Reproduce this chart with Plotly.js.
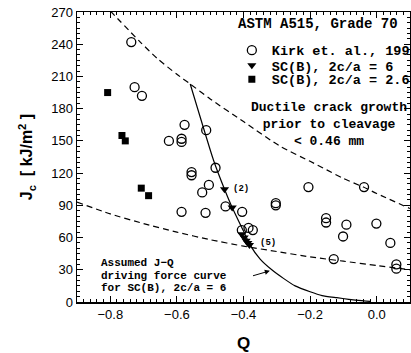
<!DOCTYPE html>
<html>
<head>
<meta charset="utf-8">
<script src="https://cdn.plot.ly/plotly-3.0.1.min.js"></script>
<style>html,body{margin:0;padding:0;background:#fff;} #chart{width:411px;height:353px;}</style>
</head>
<body>
<div id="chart"></div>
<script>
// Kirk et al., 1991 (open circles)
const kirkQ = [-0.737,-0.727,-0.705,-0.577,-0.624,-0.586,-0.586,-0.512,-0.556,-0.556,-0.484,-0.504,-0.524,-0.586,-0.514,-0.454,-0.404,-0.405,-0.385,-0.372,-0.205,-0.038,-0.303,-0.303,-0.152,-0.152,-0.091,-0.001,-0.101,0.041,-0.129,0.059,0.059];
const kirkJ = [242,200,192,165,150,152,149,160,121,118,125,109,102,84,83,89,84,67,69,67,107,107,92,90,78,74,72,73,61,55,40,35,31];
// SC(B), 2c/a = 6 (filled down triangles)
const tri6Q = [-0.457,-0.434,-0.405,-0.398,-0.392,-0.387,-0.382];
const tri6J = [105,88,63,60,57,55,53];
// SC(B), 2c/a = 2.6 (filled squares)
const sq26Q = [-0.808,-0.765,-0.755,-0.707,-0.685];
const sq26J = [195,155,150,106,99];
// upper dashed bound
const upQ = [-0.80,-0.71,-0.66,-0.60,-0.56,-0.50,-0.40,-0.29,-0.20,-0.15,-0.10,-0.04,0.00,0.10];
const upJ = [271,242,227,212,203,189,168,145,131,123,115,107,101,87];
// lower dashed bound
const loQ = [-0.90,-0.80,-0.70,-0.60,-0.50,-0.40,-0.30,-0.20,-0.10,0.00,0.10];
const loJ = [93,82,73,65,58,52,47,42,38,34,30];
// assumed J-Q driving force curve
const dfQ = [-0.56,-0.49,-0.457,-0.434,-0.40,-0.38,-0.35,-0.315,-0.28,-0.245,-0.20,-0.164,-0.12,-0.084,-0.02];
const dfJ = [203,132,105,88,66,53,40,30,22,15,9.5,6,4,2.5,0.5];
// arrow pointing at the driving force curve [tail, head]
const arrowQ = [-0.376,-0.321];
const arrowJ = [24,29];
// tick labels
const xTicks = [-0.8,-0.6,-0.4,-0.2,0.0];
const xTickText = ['\u22120.8','\u22120.6','\u22120.4','\u22120.2','0.0'];
const yTicks = [0,30,60,90,120,150,180,210,240,270];

const mono = 'Liberation Mono, Courier New, monospace';
const sans = 'Liberation Sans, Arial, Helvetica, sans-serif';

const traces = [
  {x: upQ, y: upJ, mode: 'lines', line: {color: '#000', width: 1.2, dash: '6px,4px', shape: 'spline', smoothing: 0.6}, showlegend: false, hoverinfo: 'skip'},
  {x: loQ, y: loJ, mode: 'lines', line: {color: '#000', width: 1.2, dash: '6px,4px', shape: 'spline', smoothing: 0.6}, showlegend: false, hoverinfo: 'skip'},
  {x: dfQ, y: dfJ, mode: 'lines', line: {color: '#000', width: 1.2, shape: 'spline', smoothing: 0.5}, showlegend: false, hoverinfo: 'skip'},
  {x: kirkQ, y: kirkJ, mode: 'markers', name: 'Kirk et. al., 1991', legend: 'legend', marker: {symbol: 'circle-open', size: 9, color: '#000', line: {width: 1.3}}},
  {x: tri6Q, y: tri6J, mode: 'markers', name: 'SC(B), 2c/a = 6', legend: 'legend2', marker: {symbol: 'triangle-down', size: 8, color: '#000'}},
  {x: sq26Q, y: sq26J, mode: 'markers', name: 'SC(B), 2c/a = 2.6', legend: 'legend3', marker: {symbol: 'square', size: 7, color: '#000'}}
];

const txtFont = {family: mono, size: 14, color: '#000', weight: 'bold'};
const smallFont = {family: mono, size: 11, color: '#000', weight: 'bold'};

const annotations = [
  {xref: 'paper', yref: 'paper', x: 0.477, y: 0.958, xanchor: 'left', yanchor: 'middle', text: 'ASTM A515, Grade 70', showarrow: false, font: txtFont},
  {xref: 'paper', yref: 'paper', x: 0.757, y: 0.703, xanchor: 'center', yanchor: 'top', align: 'center',
   text: 'Ductile crack growth<br>prior to cleavage<br>&lt; 0.46 mm', showarrow: false, font: {family: mono, size: 13, color: '#000', weight: 'bold'}},
  {xref: 'paper', yref: 'paper', x: 0.066, y: 0.134, xanchor: 'left', yanchor: 'middle', text: 'Assumed J\u2212Q', showarrow: false, font: smallFont},
  {xref: 'paper', yref: 'paper', x: 0.066, y: 0.090, xanchor: 'left', yanchor: 'middle', text: 'driving force curve', showarrow: false, font: smallFont},
  {xref: 'paper', yref: 'paper', x: 0.066, y: 0.048, xanchor: 'left', yanchor: 'middle', text: 'for SC(B), 2c/a = 6', showarrow: false, font: smallFont},
  {xref: 'x', yref: 'y', x: tri6Q[0], y: tri6J[0], xanchor: 'left', yanchor: 'middle', xshift: 6, text: '(2)', showarrow: false, font: {family: mono, size: 9, color: '#000', weight: 'bold'}},
  {xref: 'x', yref: 'y', x: tri6Q[tri6Q.length-1], y: tri6J[tri6J.length-1], xanchor: 'left', yanchor: 'middle', xshift: 9, yshift: 2, text: '(5)', showarrow: false, font: {family: mono, size: 9, color: '#000', weight: 'bold'}},
  {xref: 'x', yref: 'y', axref: 'x', ayref: 'y', x: arrowQ[1], y: arrowJ[1], ax: arrowQ[0], ay: arrowJ[0], text: '', showarrow: true, arrowhead: 2, arrowsize: 1, arrowwidth: 1, arrowcolor: '#000'}
];

const axisCommon = {
  showgrid: false, zeroline: false, showline: true, linecolor: '#000', linewidth: 1.5,
  mirror: 'ticks', ticks: 'inside', ticklen: 6, tickwidth: 1, tickcolor: '#000',
  tickfont: {family: sans, size: 13, color: '#000'}, automargin: false
};

const legendFont = {family: mono, size: 13.5, color: '#000', weight: 'bold'};
const legendBase = {xanchor: 'left', yanchor: 'top', bgcolor: 'rgba(0,0,0,0)', borderwidth: 0, font: legendFont, tracegroupgap: 0, itemwidth: 30};

const layout = {
  width: 411, height: 353,
  margin: {l: 77, r: 1, t: 12, b: 51, pad: 0, autoexpand: false},
  paper_bgcolor: '#fff', plot_bgcolor: '#fff',
  showlegend: true,
  legend: Object.assign({}, legendBase, {x: 0.465, y: 0.921}),
  legend2: Object.assign({}, legendBase, {x: 0.465, y: 0.869}),
  legend3: Object.assign({}, legendBase, {x: 0.465, y: 0.821}),
  xaxis: Object.assign({}, axisCommon, {
    range: [-0.9, 0.1], tickvals: xTicks, ticktext: xTickText,
    minor: {dtick: 0.02, ticks: 'inside', ticklen: 3, tickcolor: '#000', tickwidth: 1},
    title: {text: 'Q', font: {family: sans, size: 17, color: '#000', weight: 'bold'}, standoff: 16}
  }),
  yaxis: Object.assign({}, axisCommon, {
    range: [0, 270], tickvals: yTicks,
    minor: {dtick: 5, ticks: 'inside', ticklen: 3, tickcolor: '#000', tickwidth: 1},
    title: {text: 'J<sub>c</sub>  [ kJ/m<sup>2</sup> ]', font: {family: sans, size: 16, color: '#000', weight: 'bold'}, standoff: 14}
  }),
  annotations: annotations
};

Plotly.newPlot('chart', traces, layout, {staticPlot: true, displayModeBar: false});
</script>
</body>
</html>
